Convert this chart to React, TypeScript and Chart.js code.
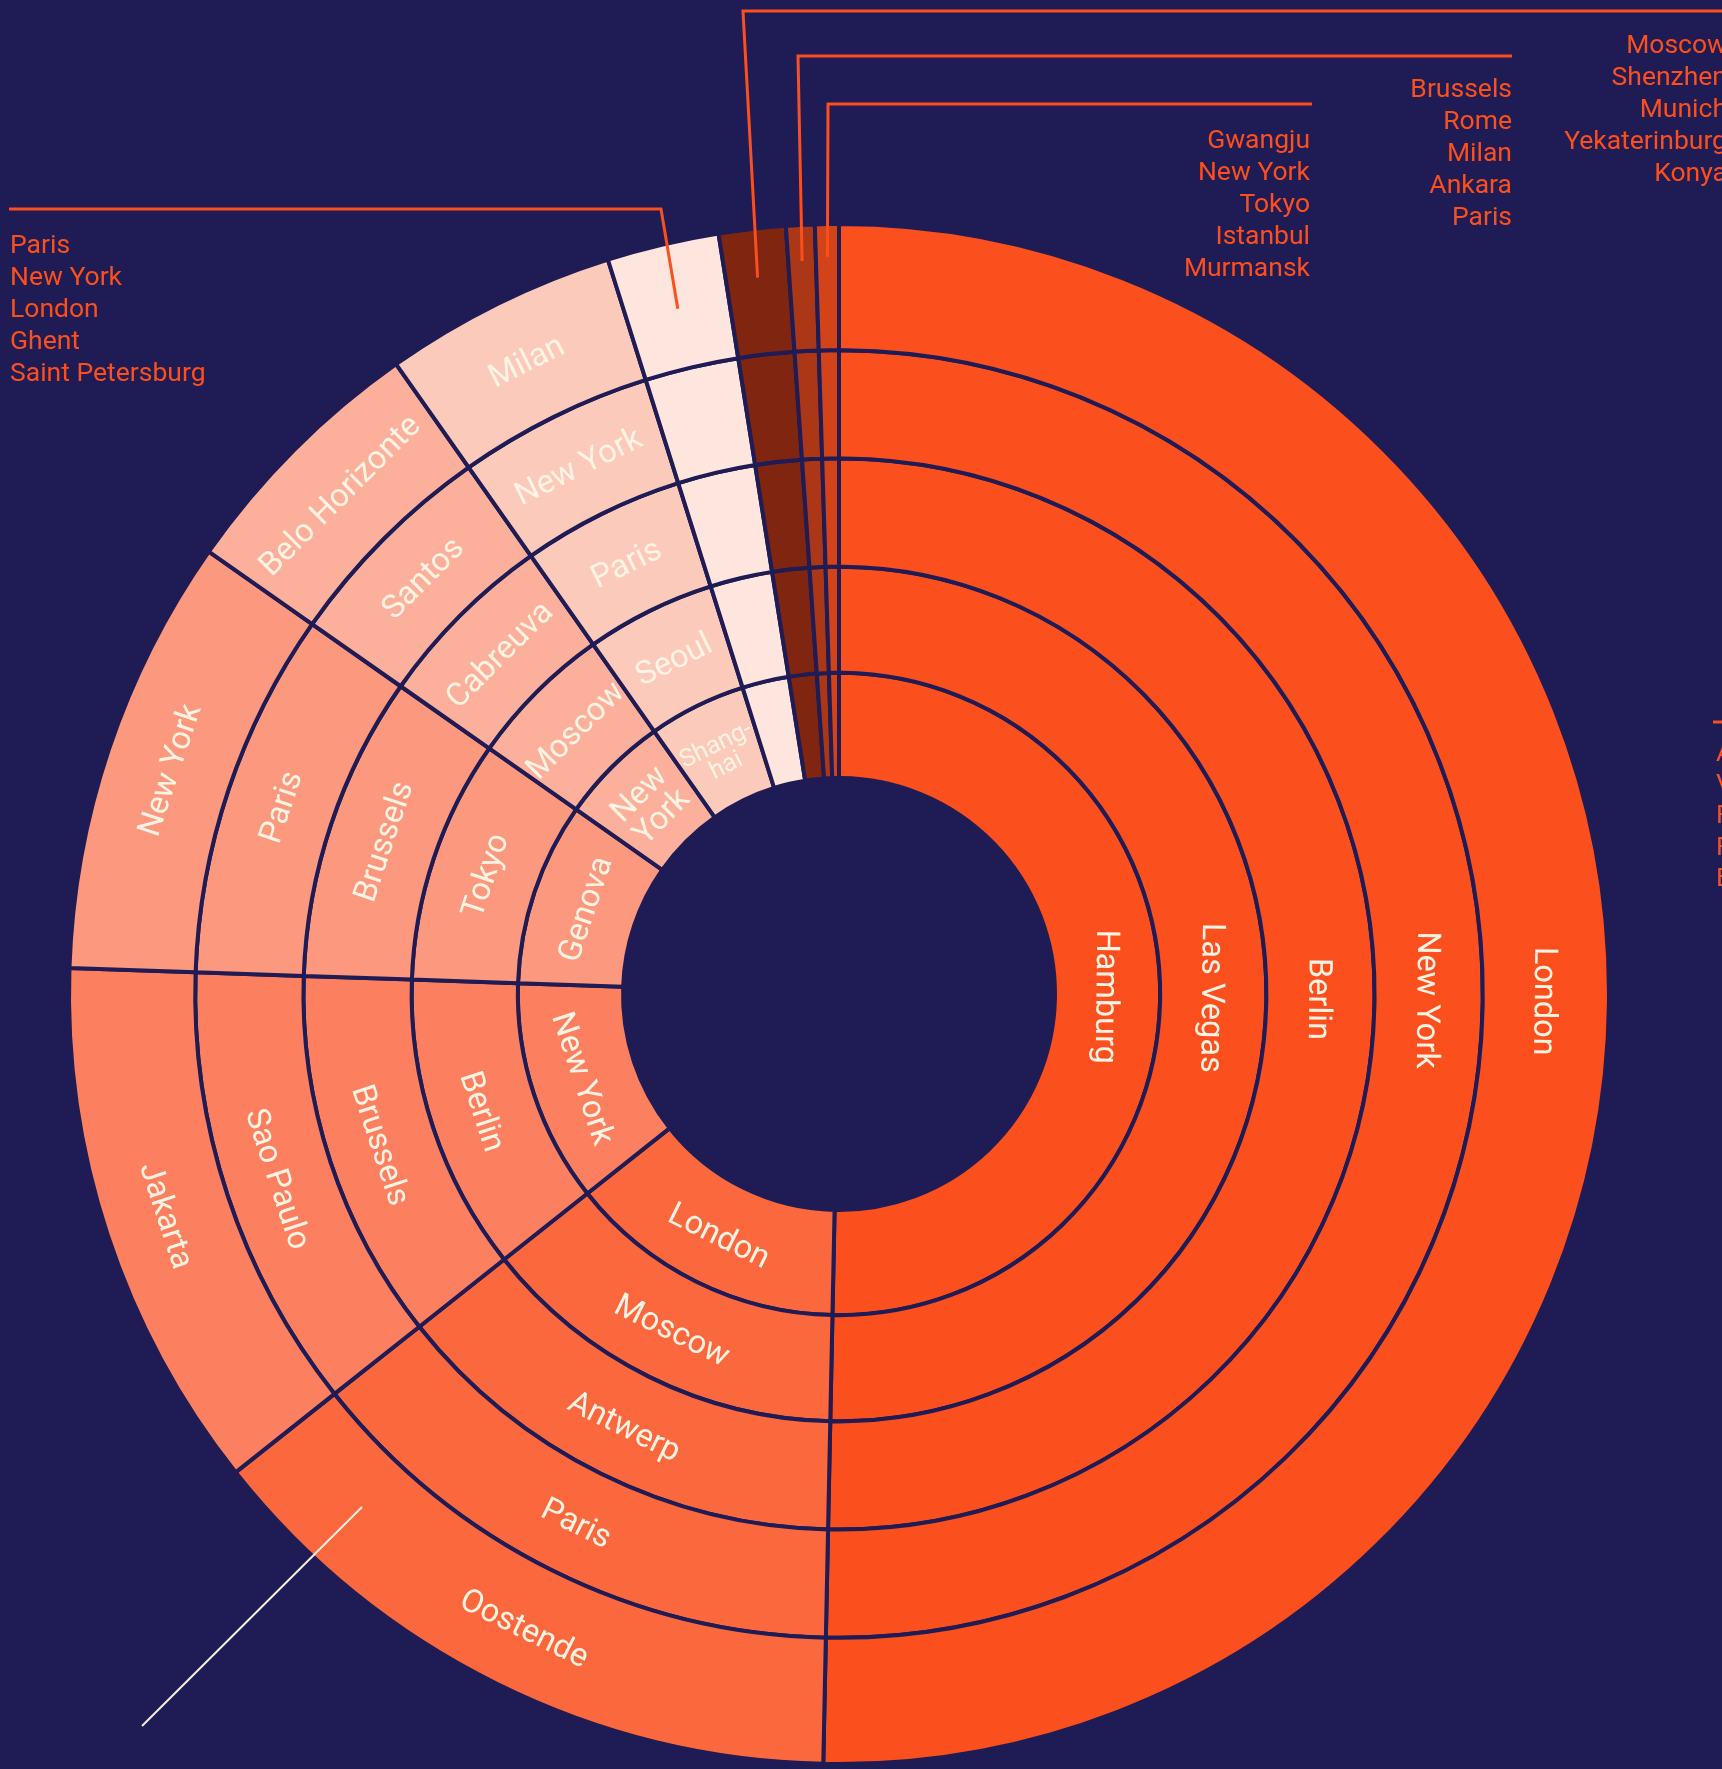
import React, { useEffect, useRef } from 'react';
import { Chart, registerables } from 'chart.js';

Chart.register(...registerables);

// ---------------- data ----------------
// ten slices, clockwise from 12 o'clock (share of the full circle, %)
const segmentShares = [50.3, 14.0, 11.2, 9.2, 5.5, 4.9, 2.35, 1.4, 0.6, 0.5];
const segmentColors = [
  '#FC4F1E', '#FC683E', '#FC805F', '#FC987D', '#FCB09B',
  '#FBCABB', '#FEE6DF', '#7F2510', '#AC3716', '#D2431A',
];

// ring labels, innermost ring first; each lists the ten slices clockwise
const ring1Labels = ['Hamburg', 'London', 'New York', 'Genova', 'New York', 'Shanghai', 'Paris', 'Moscow', 'Brussels', 'Gwangju'];
const ring2Labels = ['Las Vegas', 'Moscow', 'Berlin', 'Tokyo', 'Moscow', 'Seoul', 'New York', 'Shenzhen', 'Rome', 'New York'];
const ring3Labels = ['Berlin', 'Antwerp', 'Brussels', 'Brussels', 'Cabreuva', 'Paris', 'London', 'Munich', 'Milan', 'Tokyo'];
const ring4Labels = ['New York', 'Paris', 'Sao Paulo', 'Paris', 'Santos', 'New York', 'Ghent', 'Yekaterinburg', 'Ankara', 'Istanbul'];
const ring5Labels = ['London', 'Oostende', 'Jakarta', 'New York', 'Belo Horizonte', 'Milan', 'Saint Petersburg', 'Konya', 'Paris', 'Murmansk'];
const ringLabels = [ring1Labels, ring2Labels, ring3Labels, ring4Labels, ring5Labels];

// partially visible label group at the right edge
const clippedGroupLabels = ['A', 'V', 'F', 'F', 'E'];

// ---------------- style ----------------
const BG = '#1F1B55';
const TEXT = '#FFF3E4';
const ACCENT = '#FC4F1E';
const FONT = 'Roboto, "Liberation Sans", sans-serif';
const INLINE_SEGMENTS = 6;
const ringWeights = [126, 108, 108, 106, 105]; // outer -> inner

// callouts for the thin slices (index 6..9)
const callouts = [
  { seg: 6, anchorR: 704, cornerX: 661, lineY: 209, endX: 9, textX: 10, align: 'left', gap: 37 },
  { seg: 7, anchorR: 721, cornerX: 743, lineY: 11, endX: 1740, textX: 1727, align: 'right', gap: 35 },
  { seg: 8, anchorR: 734, cornerX: 798, lineY: 56, endX: 1512, textX: 1512, align: 'right', gap: 34 },
  { seg: 9, anchorR: 737, cornerX: 828, lineY: 104, endX: 1312, textX: 1310, align: 'right', gap: 37 },
];

const labelPlugin = {
  id: 'ringLabels',
  afterDatasetsDraw(chart: any) {
    const ctx = chart.ctx as CanvasRenderingContext2D;
    const n = chart.data.datasets.length;
    for (let di = 0; di < n; di++) {
      const names = ringLabels[n - 1 - di];
      const meta = chart.getDatasetMeta(di);
      meta.data.forEach((arc: any, i: number) => {
        if (i >= INLINE_SEGMENTS) return;
        const p = arc.getProps(['x', 'y', 'startAngle', 'endAngle', 'innerRadius', 'outerRadius'], true);
        const mid = (p.startAngle + p.endAngle) / 2;
        const r = (p.innerRadius + p.outerRadius) / 2;
        let rot = mid + Math.PI / 2;
        const deg = (((rot * 180) / Math.PI) % 360 + 360) % 360;
        if (deg > 100 && deg < 270) rot -= Math.PI;
        let size = 32.5;
        let lh = 32;
        ctx.font = `${size}px ${FONT}`;
        const avail = r * (p.endAngle - p.startAngle) * 1.05;
        const name = names[i];
        let lines = [name];
        if (ctx.measureText(name).width > avail) {
          if (name.includes(' ')) {
            lines = name.split(' ');
          } else {
            const k = Math.ceil(name.length * 0.6);
            lines = [name.slice(0, k) + '-', name.slice(k)];
            size = 25;
            lh = 23;
          }
        }
        ctx.save();
        ctx.translate(p.x + r * Math.cos(mid), p.y + r * Math.sin(mid));
        ctx.rotate(rot);
        ctx.font = `${size}px ${FONT}`;
        ctx.fillStyle = TEXT;
        ctx.textAlign = 'center';
        ctx.textBaseline = 'middle';
        lines.forEach((t, k) => ctx.fillText(t, 0, (k - (lines.length - 1) / 2) * lh + 3));
        ctx.restore();
      });
    }
  },
  afterDraw(chart: any) {
    const ctx = chart.ctx as CanvasRenderingContext2D;
    const meta = chart.getDatasetMeta(0);
    ctx.save();
    ctx.strokeStyle = ACCENT;
    ctx.fillStyle = ACCENT;
    ctx.lineWidth = 3;
    ctx.font = `26.5px ${FONT}`;
    ctx.textBaseline = 'middle';
    callouts.forEach((c) => {
      const arc = meta.data[c.seg];
      const p = arc.getProps(['x', 'y', 'startAngle', 'endAngle'], true);
      const mid = (p.startAngle + p.endAngle) / 2;
      const ax = p.x + c.anchorR * Math.cos(mid);
      const ay = p.y + c.anchorR * Math.sin(mid);
      ctx.beginPath();
      ctx.moveTo(ax, ay);
      ctx.lineTo(c.cornerX, c.lineY);
      ctx.lineTo(c.endX, c.lineY);
      ctx.stroke();
      ctx.textAlign = c.align as CanvasTextAlign;
      ringLabels.forEach((ring, k) => {
        ctx.fillText(ring[c.seg], c.textX, c.lineY + c.gap + k * 32);
      });
    });
    // group clipped at the right edge
    ctx.beginPath();
    ctx.moveTo(1713, 722);
    ctx.lineTo(1740, 722);
    ctx.stroke();
    ctx.textAlign = 'left';
    clippedGroupLabels.forEach((t, k) => ctx.fillText(t, 1716, 754 + k * 31.3));
    // pale pointer line, lower left
    ctx.strokeStyle = '#F6EEDF';
    ctx.lineWidth = 2;
    ctx.beginPath();
    ctx.moveTo(362, 1507);
    ctx.lineTo(142, 1726);
    ctx.stroke();
    ctx.restore();
  },
};

export default function App() {
  const ref = useRef<HTMLCanvasElement | null>(null);
  useEffect(() => {
    document.body.style.margin = '0';
    document.body.style.background = BG;
    const canvas = ref.current;
    if (!canvas) return;
    const chart = new Chart(canvas, {
      type: 'doughnut',
      data: {
        labels: ring1Labels,
        datasets: ringWeights.map((w, di) => ({
          label: `Ring ${ringWeights.length - di}`,
          data: segmentShares,
          backgroundColor: segmentColors,
          borderColor: BG,
          borderWidth: 4,
          hoverOffset: 0,
          weight: w,
        })),
      },
      options: {
        responsive: false,
        animation: false,
        events: [],
        radius: 770,
        cutout: '28.05%',
        layout: { padding: { left: 69, right: 113, top: 224, bottom: 5 } },
        plugins: { legend: { display: false }, tooltip: { enabled: false } },
      } as any,
      plugins: [labelPlugin],
    });
    return () => chart.destroy();
  }, []);
  return (
    <div style={{ position: 'fixed', left: 0, top: 0, width: 1722, height: 1769, background: BG, overflow: 'hidden' }}>
      <canvas ref={ref} width={1722} height={1769} style={{ display: 'block', width: 1722, height: 1769 }} />
    </div>
  );
}
